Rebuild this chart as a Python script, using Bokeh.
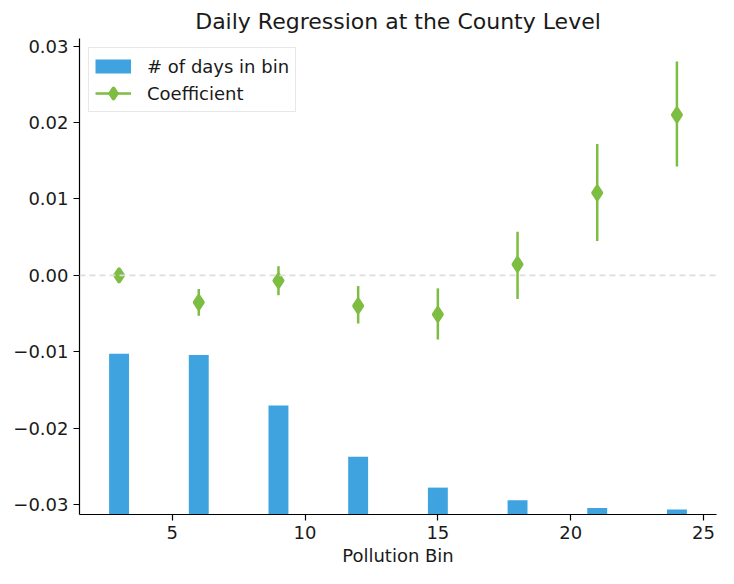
from bokeh.plotting import figure
from bokeh.models import Range1d, FixedTicker, CustomJSTickFormatter, Span, Legend, LegendItem, ColumnDataSource
from bokeh.embed import file_html
from bokeh.resources import INLINE

# ---- data ----
bins = [3, 6, 9, 12, 15, 18, 21, 24]
bar_tops = [-0.01027, -0.01043, -0.01703, -0.02375, -0.02778, -0.02944, -0.03046, -0.03064]
coef = [0.0, -0.00355, -0.0007, -0.0040, -0.0051, 0.00143, 0.0108, 0.0210]
err_lo = [0.0, -0.0053, -0.0026, -0.0063, -0.0084, -0.0031, 0.0045, 0.01426]
err_hi = [0.0, -0.0018, 0.0012, -0.0014, -0.0017, 0.0057, 0.0172, 0.0280]
y_ticks = [-0.03, -0.02, -0.01, 0.0, 0.01, 0.02, 0.03]
x_ticks = [5, 10, 15, 20, 25]

BLUE = "#3ea3de"
GREEN = "#7dbd42"
FONT = "DejaVu Sans"
TXT = "#1a1a1a"

y0, y1 = -0.0313, 0.0310

p = figure(width=718, height=568, output_backend="svg", toolbar_location=None,
           x_range=Range1d(1.51, 25.49), y_range=Range1d(y0, y1),
           title="Daily Regression at the County Level",
           min_border_left=79, min_border_right=2, min_border_top=38, min_border_bottom=50)

p.title.align = "center"
p.title.text_font = FONT
p.title.text_font_size = "22px"
p.title.text_font_style = "normal"
p.title.text_color = TXT
p.title.offset = 0

p.outline_line_color = None
p.grid.grid_line_color = None
p.background_fill_color = "white"
p.border_fill_color = "white"

src_bar = ColumnDataSource(dict(x=bins, top=bar_tops, bottom=[y0] * len(bins)))
bars = p.vbar(x="x", top="top", bottom="bottom", width=0.75, source=src_bar,
              fill_color=BLUE, line_color=None)
# hidden legend proxy for the bars (a thick blue band, like the reference legend swatch)
bar_proxy = p.line(x="x", y="top", source=src_bar, line_color=BLUE, line_width=14,
                   line_cap="butt", visible=False)

zero = Span(location=0, dimension="width", line_color="#dddddd", line_width=1.6, line_dash="6 4")
p.add_layout(zero)

eb_idx = [i for i in range(len(bins)) if err_hi[i] != err_lo[i]]
src_err = ColumnDataSource(dict(x=[bins[i] for i in eb_idx],
                                lo=[err_lo[i] for i in eb_idx],
                                hi=[err_hi[i] for i in eb_idx]))
segs = p.segment(x0="x", x1="x", y0="lo", y1="hi", source=src_err,
                 line_color=GREEN, line_width=2.5)
src_pt = ColumnDataSource(dict(x=bins, y=coef))
pts = p.scatter(x="x", y="y", source=src_pt, marker="diamond", size=12,
                fill_color=GREEN, line_color=GREEN, line_width=4, line_join="round")

legend = Legend(items=[LegendItem(label="# of days in bin", renderers=[bar_proxy]),
                       LegendItem(label="Coefficient", renderers=[segs, pts])],
                location="top_left")
legend.label_text_font = FONT
legend.label_text_font_size = "18px"
legend.label_text_color = TXT
legend.glyph_width = 36
legend.glyph_height = 24
legend.label_standoff = 16
legend.spacing = 3
legend.padding = 6
legend.margin = 9
legend.border_line_color = "#d0d0d0"
legend.border_line_width = 1
legend.background_fill_alpha = 0.8
p.add_layout(legend)

for ax in (p.xaxis[0], p.yaxis[0]):
    ax.axis_line_color = "black"
    ax.axis_line_width = 1.2
    ax.major_tick_line_color = "black"
    ax.major_tick_line_width = 1.2
    ax.major_tick_out = 6
    ax.major_tick_in = 0
    ax.minor_tick_out = 0
    ax.minor_tick_in = 0
    ax.major_label_text_font = FONT
    ax.major_label_text_font_size = "18px"
    ax.major_label_text_color = TXT
    ax.major_label_standoff = 5

p.xaxis.ticker = FixedTicker(ticks=x_ticks)
p.yaxis.ticker = FixedTicker(ticks=y_ticks)
p.yaxis.formatter = CustomJSTickFormatter(code="return tick.toFixed(2).replace('-', '\u2212');")

p.xaxis.axis_label = "Pollution Bin"
p.xaxis.axis_label_text_font = FONT
p.xaxis.axis_label_text_font_size = "18px"
p.xaxis.axis_label_text_font_style = "normal"
p.xaxis.axis_label_text_color = TXT
p.xaxis.axis_label_standoff = 3

open("out.html", "w").write(file_html(p, INLINE))
